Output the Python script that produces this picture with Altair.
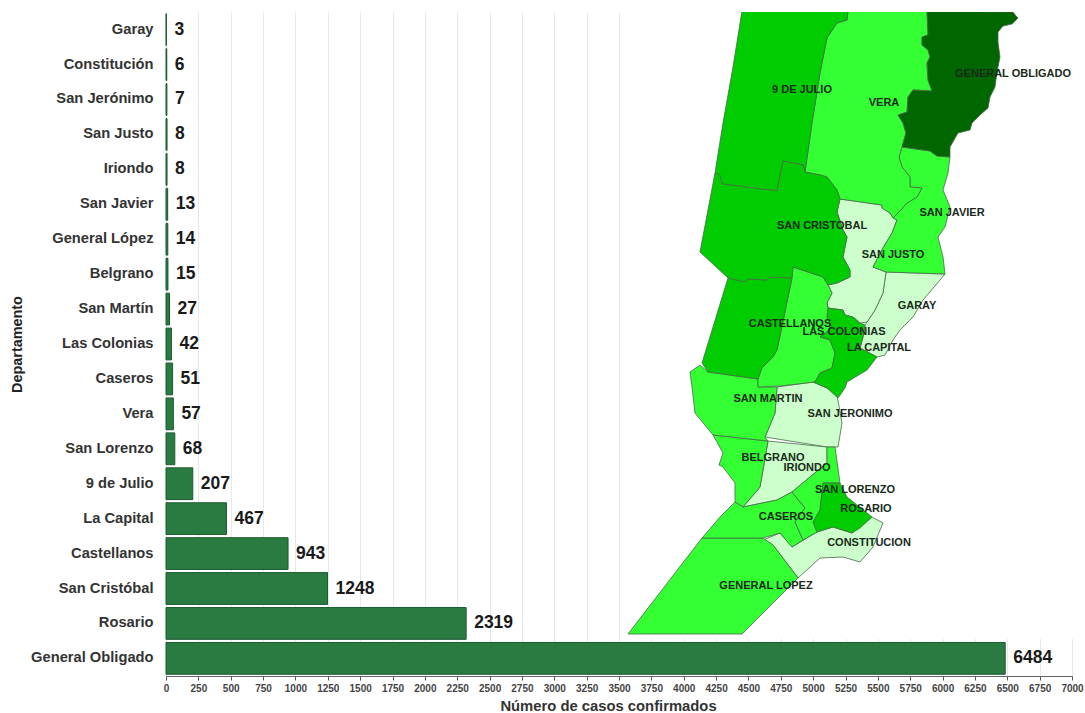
import altair as alt

# Confirmed cases per department, smallest to largest
departments = ["Garay", "Constitución", "San Jerónimo", "San Justo", "Iriondo", "San Javier",
               "General López", "Belgrano", "San Martín", "Las Colonias", "Caseros", "Vera",
               "San Lorenzo", "9 de Julio", "La Capital", "Castellanos", "San Cristóbal",
               "Rosario", "General Obligado"]
cases = [3, 6, 7, 8, 8, 13, 14, 15, 27, 42, 51, 57, 68, 207, 467, 943, 1248, 2319, 6484]

# Department outlines in map units
garay = [[886,272],[945,274],[940,280],[923,300],[913,317],[900,330],[893,340],[885,355],[877,357],[860,348],[863,337],[865,325],[875,310],[883,293]]
constitucion = [[763,540],[780,533],[792,547],[817,532],[833,527],[852,533],[872,517],[883,523],[873,547],[860,562],[843,557],[820,558],[798,578],[773,545]]
san_jeronimo = [[777,387],[813,382],[827,388],[837,395],[842,423],[838,447],[827,447],[765,437],[775,413]]
san_justo = [[840,199],[882,205],[882,208],[890,213],[893,218],[897,220],[892,233],[883,248],[873,267],[886,272],[883,293],[875,310],[867,322],[860,323],[853,317],[845,315],[843,310],[828,308],[827,303],[832,293],[828,285],[837,283],[850,277],[850,270],[843,257],[847,237],[843,230],[837,212]]
iriondo = [[768,441],[827,447],[827,463],[810,477],[792,492],[777,500],[743,507],[760,487]]
san_javier = [[902,147],[930,151],[937,156],[950,157],[948,173],[943,190],[950,207],[945,227],[938,237],[943,257],[945,274],[886,272],[873,267],[883,248],[892,233],[897,220],[893,218],[898,213],[907,203],[917,197],[922,188],[910,187],[910,177],[902,167],[899,157]]
general_lopez = [[702,538],[763,538],[773,545],[798,578],[742,634],[628,634]]
belgrano = [[713,435],[768,441],[760,487],[743,507],[735,502],[735,483],[723,467],[719,465],[723,453]]
san_martin = [[690,372],[700,365],[708,372],[758,379],[758,387],[777,387],[775,413],[765,437],[768,441],[713,435],[695,413],[692,387]]
las_colonias = [[793,267],[823,277],[828,285],[832,293],[827,303],[828,308],[827,317],[832,328],[820,337],[830,340],[835,353],[832,368],[820,373],[815,382],[780,386],[758,387],[758,379],[762,368],[773,357],[777,350],[792,278]]
caseros = [[735,502],[743,507],[777,500],[792,492],[805,508],[795,522],[803,540],[792,547],[780,533],[763,538],[702,538],[720,517]]
vera = [[848,11],[927,11],[928,35],[922,37],[922,45],[928,50],[930,57],[927,63],[928,80],[932,91],[913,90],[908,97],[907,112],[898,115],[903,123],[906,133],[902,147],[899,157],[902,167],[910,177],[910,187],[922,188],[917,197],[907,203],[898,213],[893,218],[890,213],[882,208],[882,205],[840,199],[837,190],[827,177],[820,175],[805,172],[812,123],[820,73],[827,38],[837,23],[847,20]]
san_lorenzo = [[827,447],[835,447],[840,483],[823,483],[820,510],[813,522],[817,532],[803,540],[795,522],[805,508],[792,492],[810,477],[827,463]]
nueve_de_julio = [[742,11],[848,11],[847,20],[837,23],[827,38],[820,73],[812,123],[805,172],[803,165],[783,161],[777,191],[722,184],[720,175],[715,173],[723,123],[733,67]]
la_capital = [[828,308],[843,310],[845,315],[853,317],[860,323],[865,325],[863,337],[860,348],[877,357],[867,370],[847,382],[845,388],[838,398],[827,388],[813,382],[815,382],[820,373],[832,368],[835,353],[830,340],[820,337],[832,328],[827,317]]
castellanos = [[728,278],[745,282],[748,279],[767,280],[770,277],[792,278],[777,350],[773,357],[762,368],[758,379],[708,372],[702,363]]
san_cristobal = [[715,173],[720,175],[722,184],[777,191],[783,161],[803,165],[805,172],[820,175],[827,177],[837,190],[840,199],[837,212],[843,230],[847,237],[843,257],[850,270],[850,277],[837,283],[828,285],[823,277],[793,267],[792,278],[770,277],[767,280],[748,279],[745,282],[728,278],[700,252]]
rosario = [[823,483],[840,483],[847,497],[872,517],[860,528],[852,533],[833,527],[817,532],[813,522],[820,510]]
general_obligado = [[927,11],[1013,12],[1016,16],[1018,18],[1012,24],[1003,26],[998,32],[998,42],[1000,57],[997,72],[995,87],[990,97],[988,108],[980,115],[972,123],[970,130],[958,133],[950,147],[950,157],[937,156],[930,151],[902,147],[906,133],[903,123],[898,115],[907,112],[908,97],[913,90],[932,91],[928,80],[927,63],[930,57],[928,50],[922,45],[922,37],[928,35]]

outlines = [garay, constitucion, san_jeronimo, san_justo, iriondo, san_javier, general_lopez,
            belgrano, san_martin, las_colonias, caseros, vera, san_lorenzo, nueve_de_julio,
            la_capital, castellanos, san_cristobal, rosario, general_obligado]

# Map label names and their anchor points, in the same map units
map_names = ["GENERAL OBLIGADO", "9 DE JULIO", "VERA", "SAN JAVIER", "SAN CRISTOBAL", "SAN JUSTO",
             "GARAY", "CASTELLANOS", "LAS COLONIAS", "LA CAPITAL", "SAN MARTIN", "SAN JERONIMO",
             "BELGRANO", "IRIONDO", "SAN LORENZO", "ROSARIO", "CASEROS", "CONSTITUCION", "GENERAL LOPEZ"]
map_x = [1013, 802, 884, 952, 822, 893, 917, 790, 844, 879, 768, 850, 773, 807, 855, 866, 786, 869, 766]
map_y = [74, 90, 103, 213, 226, 255, 306, 324, 332, 348, 399, 414, 458, 468, 490, 509, 517, 543, 586]

tick_values = list(range(0, 7001, 250))
class_limits = [10, 100, 5000]
class_colors = ["#ccffcc", "#33ff33", "#00cc00", "#006600"]

PLOT_W, PLOT_H = 906, 664
LEFT, TOP = 166, 12
FONT = "Liberation Sans"

bars_data = alt.Data(values=[{"dep": d, "cases": c} for d, c in zip(departments, cases)])
features = [
    {"type": "Feature",
     "properties": {"name": d, "cases": c},
     "geometry": {"type": "Polygon", "coordinates": [ring + [ring[0]]]}}
    for d, c, ring in zip(departments, cases, outlines)
]
labels_data = alt.Data(values=[{"name": n, "mx": x, "my": y} for n, x, y in zip(map_names, map_x, map_y)])

x_enc = alt.X("cases:Q",
              scale=alt.Scale(domain=[0, 7000], nice=False),
              axis=alt.Axis(values=tick_values, labelOverlap=False, labelFlush=False, format="d",
                            labelFontSize=10, labelFontWeight="bold", labelColor="#444444",
                            labelFont=FONT, labelPadding=3, tickSize=4, tickColor="#555555",
                            domainColor="#666666", gridColor="#e8e8e8", gridWidth=1,
                            title="Número de casos confirmados", titleFont=FONT, titleFontSize=14.8,
                            titleFontWeight="bold", titleColor="#333333", titlePadding=5,
                            titleX=442, titleAlign="center"))
y_enc = alt.Y("dep:N", sort=departments,
              scale=alt.Scale(paddingInner=0.09, paddingOuter=0.05),
              axis=alt.Axis(domain=False, ticks=False, grid=False, labelFont=FONT, labelFontSize=14.7,
                            labelFontWeight="bold", labelColor="#333333", labelPadding=13,
                            title="Departamento", titleFont=FONT, titleFontSize=14.4,
                            titleFontWeight="bold", titleColor="#222222", titlePadding=6))

bars = alt.Chart(bars_data).mark_bar(fill="#2a7b42", stroke="#1b5a30", strokeWidth=1).encode(x=x_enc, y=y_enc)

values = alt.Chart(bars_data).mark_text(align="left", dx=8, font=FONT, fontSize=17.5,
                                        fontWeight="bold", color="#1a1a1a").encode(
    x=x_enc, y=y_enc, text="cases:Q")

# White backdrop of the map inset, hiding the grid behind it
backdrop = alt.Chart(bars_data).mark_rect(fill="white").encode(
    x=alt.value(456), x2=alt.value(PLOT_W + 4), y=alt.value(-TOP), y2=alt.value(627))

projection = dict(type="identity", scale=1, translate=[-LEFT, -TOP])

regions = alt.Chart(alt.Data(values=features)).mark_geoshape(stroke="#46694a", strokeWidth=0.8).encode(
    color=alt.Color("properties.cases:Q", legend=None,
                    scale=alt.Scale(type="threshold", domain=class_limits, range=class_colors))
).project(**projection)

region_labels = alt.Chart(labels_data).mark_text(font=FONT, fontSize=11, fontWeight="bold",
                                                 color="#1a2a1a").encode(
    longitude="mx:Q", latitude="my:Q", text="name:N").project(**projection)

chart = alt.layer(bars, values, backdrop, regions, region_labels).resolve_scale(
    color="independent"
).properties(
    width=PLOT_W, height=PLOT_H,
    padding={"left": LEFT, "top": TOP, "right": 13, "bottom": 37},
    autosize=alt.AutoSizeParams(type="none"),
    background="white",
).configure_view(stroke=None)

chart.save("out.html", embed_options={"renderer": "svg", "actions": False})
